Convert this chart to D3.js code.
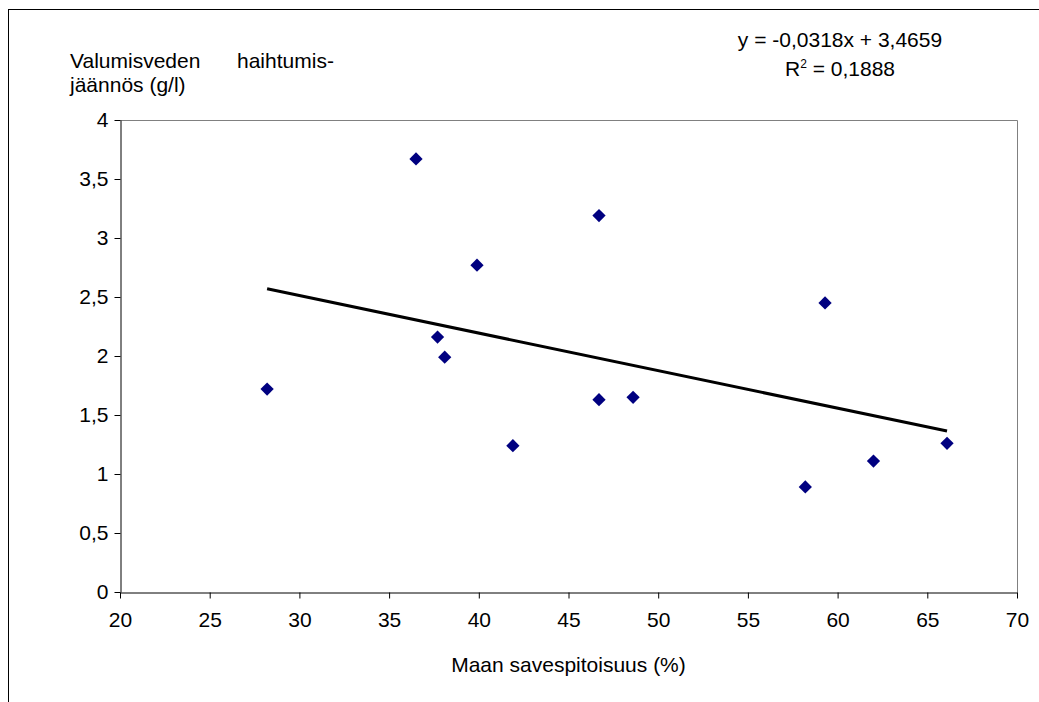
<!DOCTYPE html>
<html>
<head>
<meta charset="utf-8">
<script src="https://cdn.jsdelivr.net/npm/d3@7"></script>
<style>
  html, body { margin: 0; padding: 0; background: #fff; }
  svg { display: block; }
  text { font-family: "Liberation Sans", Arial, sans-serif; fill: #000; }
</style>
</head>
<body>
<div id="chart"></div>
<script>
// clay content (%) vs. evaporation residue of runoff water (g/l)
var clayPct = [28.2, 36.5, 37.7, 38.1, 39.9, 41.9, 46.7, 46.7, 48.6, 58.2, 59.3, 62.0, 66.1];
var residue = [1.72, 3.67, 2.16, 1.99, 2.77, 1.24, 3.19, 1.63, 1.65, 0.89, 2.45, 1.11, 1.26];

var xTicks = [20, 25, 30, 35, 40, 45, 50, 55, 60, 65, 70];
var yTicks = [0, 0.5, 1, 1.5, 2, 2.5, 3, 3.5, 4];

// linear trend: y = slope * x + intercept
var slope = -0.0318;
var intercept = 3.4659;
var rSquared = 0.1888;

var width = 1039, height = 702;
var margin = {left: 120, top: 120, right: 1017, bottom: 592};
var fontSize = 21;

var svg = d3.select("#chart").append("svg")
	.attr("width", width)
	.attr("height", height);

// outer chart frame (runs off the right and bottom edges)
svg.append("rect")
	.attr("x", 8.5).attr("y", 9.5)
	.attr("width", width + 10).attr("height", height + 10)
	.attr("fill", "none")
	.attr("stroke", "#000");

var x = d3.scaleLinear().domain([20, 70]).range([margin.left, margin.right]);
var y = d3.scaleLinear().domain([0, 4]).range([margin.bottom, margin.top]);

var fmt = function (d) { return String(d).replace(".", ","); };

// plot area border (top and right in grey)
svg.append("path")
	.attr("d", "M" + (margin.left + 0.5) + "," + (margin.top + 0.5) +
		"H" + (margin.right + 0.5) + "V" + (margin.bottom + 0.5))
	.attr("fill", "none")
	.attr("stroke", "#808080");

var xAxis = svg.append("g")
	.attr("transform", "translate(0," + (margin.bottom + 0.5) + ")")
	.call(d3.axisBottom(x).tickValues(xTicks).tickFormat(fmt).tickSizeOuter(0).tickSizeInner(6).tickPadding(14));

var yAxis = svg.append("g")
	.attr("transform", "translate(" + (margin.left + 0.5) + ",0)")
	.call(d3.axisLeft(y).tickValues(yTicks).tickFormat(fmt).tickSizeOuter(0).tickSizeInner(6).tickPadding(6));

[xAxis, yAxis].forEach(function (g) {
	g.select(".domain").attr("stroke", "#000");
	g.selectAll(".tick line").attr("stroke", "#000");
	g.selectAll(".tick text")
		.attr("font-size", fontSize)
		.style("font-family", "'Liberation Sans', Arial, sans-serif");
});

// trend line across the range of the data
var xExt = d3.extent(clayPct);
svg.append("line")
	.attr("x1", x(xExt[0])).attr("y1", y(slope * xExt[0] + intercept))
	.attr("x2", x(xExt[1])).attr("y2", y(slope * xExt[1] + intercept))
	.attr("stroke", "#000")
	.attr("stroke-width", 3);

// diamond markers
var diamond = d3.symbol().type(d3.symbolDiamond2).size(112);
svg.selectAll(".pt")
	.data(clayPct)
	.enter().append("path")
	.attr("class", "pt")
	.attr("d", diamond)
	.attr("transform", function (d, i) {
		return "translate(" + x(d) + "," + y(residue[i]) + ")";
	})
	.attr("fill", "#000080");

// axis titles
var yTitle = svg.append("text").attr("font-size", fontSize);
yTitle.append("tspan").attr("x", 70).attr("y", 68).text("Valumisveden");
yTitle.append("tspan").attr("x", 237).attr("y", 68).text("haihtumis-");
yTitle.append("tspan").attr("x", 70).attr("y", 92).text("jäännös (g/l)");

svg.append("text")
	.attr("x", (margin.left + margin.right) / 2)
	.attr("y", 672)
	.attr("text-anchor", "middle")
	.attr("font-size", fontSize)
	.text("Maan savespitoisuus (%)");

// trend equation
svg.append("text")
	.attr("x", 840).attr("y", 47)
	.attr("text-anchor", "middle")
	.attr("font-size", fontSize)
	.text("y = " + fmt(slope) + "x + " + fmt(intercept));
var r2 = svg.append("text")
	.attr("x", 840).attr("y", 76)
	.attr("text-anchor", "middle")
	.attr("font-size", fontSize);
r2.append("tspan").text("R");
r2.append("tspan").attr("font-size", 12).attr("dy", -8).text("2");
r2.append("tspan").attr("dy", 8).text(" = " + fmt(rSquared));
</script>
</body>
</html>
